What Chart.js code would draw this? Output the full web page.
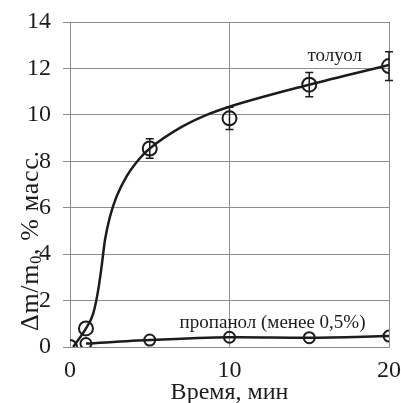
<!DOCTYPE html>
<html>
<head>
<meta charset="utf-8">
<script src="https://cdn.jsdelivr.net/npm/chart.js@4/dist/chart.umd.min.js"></script>
<style>
  html, body { margin: 0; padding: 0; background: #fff; }
  canvas { display: block; }
</style>
</head>
<body>
<canvas id="sorptionChart" width="401" height="403"></canvas>
<script>
// measured points
const timeMin = [0, 1, 5, 10, 15, 20];
const tolueneVals = [0, 0.8, 8.55, 9.85, 11.3, 12.1];
const tolueneErr = [0, 0, 0.42, 0.48, 0.52, 0.62];
const propanolTime = [1, 5, 10, 15, 20];
const propanolVals = [0.15, 0.3, 0.42, 0.4, 0.47];

// trend curve for toluene
const curveTime = [0.2, 1, 1.46, 1.77, 1.98, 2.19, 2.5, 2.92, 3.54, 4.38, 5, 7, 8.5, 10, 15, 20];
const curveVals = [0, 0.8, 1.45, 2.46, 3.46, 4.6, 5.6, 6.48, 7.34, 8.13, 8.55, 9.48, 9.98, 10.35, 11.3, 12.15];

const xTicks = [0, 10, 20];
const yTicks = [0, 2, 4, 6, 8, 10, 12, 14];

const serif = '"Liberation Serif", "Times New Roman", serif';
const ink = '#1c1c1c';
const gridGray = '#8e8e8e';

const toXY = (xs, ys) => xs.map((x, i) => ({ x: x, y: ys[i] }));

const errorBars = {
    id: 'errorBars',
    afterDatasetsDraw(chart) {
        const ctx = chart.ctx;
        const xs = chart.scales.x, ys = chart.scales.y;
        ctx.save();
        ctx.strokeStyle = ink;
        ctx.lineWidth = 1.5;
        timeMin.forEach((t, i) => {
            if (!tolueneErr[i]) return;
            const px = xs.getPixelForValue(t);
            const top = ys.getPixelForValue(tolueneVals[i] + tolueneErr[i]);
            const bot = ys.getPixelForValue(tolueneVals[i] - tolueneErr[i]);
            ctx.beginPath();
            ctx.moveTo(px, top); ctx.lineTo(px, bot);
            ctx.moveTo(px - 4, top); ctx.lineTo(px + 4, top);
            ctx.moveTo(px - 4, bot); ctx.lineTo(px + 4, bot);
            ctx.stroke();
        });
        ctx.restore();
    }
};

const labelsPlugin = {
    id: 'labelsPlugin',
    afterDraw(chart) {
        const ctx = chart.ctx;
        const xs = chart.scales.x, ys = chart.scales.y;
        ctx.save();
        ctx.fillStyle = ink;
        ctx.textAlign = 'center';
        ctx.textBaseline = 'alphabetic';
        ctx.font = '19px ' + serif;
        ctx.fillText('толуол', xs.getPixelForValue(16.6), ys.getPixelForValue(12.3));
        ctx.fillText('пропанол (менее 0,5%)', xs.getPixelForValue(12.7), ys.getPixelForValue(0.8));

        // y axis title with subscript
        ctx.translate(38, 331);
        ctx.rotate(-Math.PI / 2);
        ctx.textAlign = 'left';
        ctx.letterSpacing = '0.7px';
        ctx.font = '26px ' + serif;
        let pos = 0;
        ctx.fillText('Δm/m', pos, 0);
        pos += ctx.measureText('Δm/m').width;
        ctx.font = '16px ' + serif;
        ctx.fillText('0', pos, 3);
        pos += ctx.measureText('0').width;
        ctx.font = '26px ' + serif;
        ctx.fillText(', % масс.', pos, 0);
        ctx.restore();
    }
};

const ctx = document.getElementById('sorptionChart').getContext('2d');
const sorptionChart = new Chart(ctx, {
    type: 'scatter',
    data: {
        datasets: [
            {
                label: 'толуол (кривая)',
                data: toXY(curveTime, curveVals),
                showLine: true,
                borderColor: ink,
                borderWidth: 2.5,
                pointRadius: 0,
                cubicInterpolationMode: 'monotone',
                fill: false,
            },
            {
                label: 'пропанол',
                data: toXY(propanolTime, propanolVals),
                showLine: true,
                borderColor: ink,
                borderWidth: 2.5,
                pointRadius: 5.5,
                pointBorderWidth: 2,
                pointBorderColor: ink,
                pointBackgroundColor: 'rgba(0,0,0,0)',
                tension: 0.3,
            },
            {
                label: 'толуол',
                data: toXY(timeMin, tolueneVals),
                showLine: false,
                pointRadius: 7,
                pointBorderWidth: 2,
                pointBorderColor: ink,
                pointBackgroundColor: 'rgba(0,0,0,0)',
            }
        ]
    },
    options: {
        responsive: false,
        animation: false,
        devicePixelRatio: 1,
        layout: { padding: { top: 22, right: 12, left: 0, bottom: 0 } },
        scales: {
            x: {
                type: 'linear',
                min: 0,
                max: 20,
                afterBuildTicks: (scale) => { scale.ticks = xTicks.map(v => ({ value: v })); },
                afterFit: (scale) => {
                    scale.height = 56;
                    scale.paddingLeft = 0;
                    scale.paddingRight = 0;
                },
                grid: { color: gridGray, lineWidth: 1, drawTicks: false },
                border: { color: gridGray },
                ticks: {
                    color: ink,
                    padding: 9,
                    maxRotation: 0,
                    font: { family: serif, size: 24 },
                },
                title: {
                    display: true,
                    text: 'Время, мин',
                    color: ink,
                    font: { family: serif, size: 24 },
                    padding: { top: 0, bottom: -4 },
                }
            },
            y: {
                min: 0,
                max: 14,
                afterBuildTicks: (scale) => { scale.ticks = yTicks.map(v => ({ value: v })); },
                afterFit: (scale) => {
                    scale.width = 70;
                    scale.paddingTop = 0;
                    scale.paddingBottom = 0;
                },
                grid: { color: gridGray, lineWidth: 1, tickLength: 7 },
                border: { color: gridGray },
                ticks: {
                    color: ink,
                    padding: 12,
                    font: { family: serif, size: 24 },
                }
            }
        },
        plugins: {
            legend: { display: false },
            tooltip: { enabled: false },
        }
    },
    plugins: [errorBars, labelsPlugin]
});
</script>
</body>
</html>
